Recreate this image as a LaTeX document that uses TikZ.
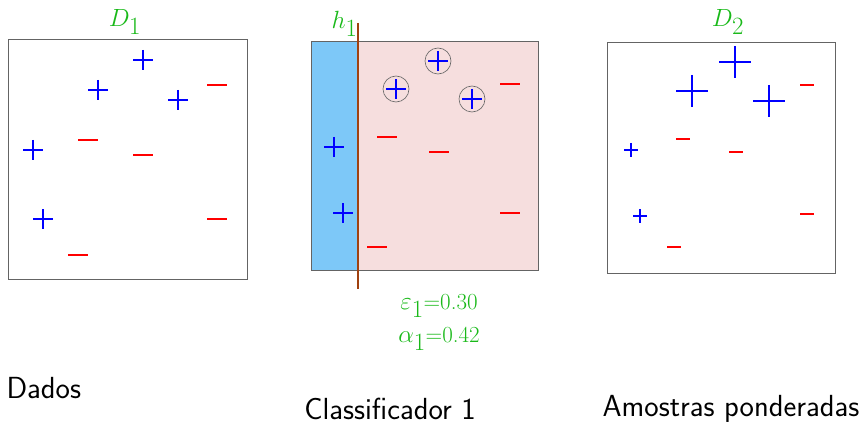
\documentclass[tikz,border=0pt]{standalone}
\usepackage{amsmath}
\usepackage{xcolor}
\usepackage{tikz}
\usetikzlibrary{positioning}

\definecolor{lblgreen}{RGB}{25,185,25}
\definecolor{boxgray}{RGB}{100,100,100}
\definecolor{leftblue}{RGB}{125,200,248}
\definecolor{rightpink}{RGB}{246,222,222}
\definecolor{hbrown}{RGB}{160,65,15}

\begin{document}
\begin{tikzpicture}[x=1pt,y=-1pt,
    box/.style={draw=boxgray,line width=1pt},
    plusmark/.style={draw=blue,line width=1.8pt},
    minusmark/.style={draw=red,line width=2.2pt},
    ring/.style={draw=boxgray,line width=0.6pt},
    lbl/.style={text=lblgreen,font=\fontsize{23}{26}\selectfont},
    caption/.style={font=\sffamily\fontsize{30.5}{34}\selectfont}]
    \useasboundingbox (0,0) rectangle (862,425);

    % data D1
    \draw[box] (8,40) rectangle (247,279);
    \node[lbl] (d1) at (125,22) {$D_{\textstyle 1}$};
    \foreach \x/\y in {143/60, 98/90, 178/100, 33/150, 43/219}
        \draw[plusmark] (\x-10,\y) -- (\x+10,\y) (\x,\y-10) -- (\x,\y+10);
    \foreach \x/\y in {217/85, 88/140, 143/155, 217/219, 78/255}
        \draw[minusmark] (\x-10,\y) -- (\x+10,\y);

    % classifier h1
    \fill[leftblue] (311,42) rectangle (358,270);
    \fill[rightpink] (358,42) rectangle (538,270);
    \draw[box] (311,42) rectangle (538,270);
    \coordinate (htop) at (358,23);
    \coordinate (hbot) at (358,289);
    \draw[hbrown,line width=2.2pt] (htop) -- (hbot);
    \node[lbl,left=-3pt of htop,yshift=-1pt] (h1) {$h_{\textstyle 1}$};
    \foreach \x/\y in {334/147, 343/213, 396/89, 438/61, 472/99}
        \draw[plusmark] (\x-10,\y) -- (\x+10,\y) (\x,\y-10) -- (\x,\y+10);
    \foreach \x/\y in {396/89, 438/61, 472/99}
        \draw[ring] (\x,\y) circle (13pt);
    \foreach \x/\y in {510/84, 387/137, 439/152, 510/213, 377/247}
        \draw[minusmark] (\x-10,\y) -- (\x+10,\y);
    \node[lbl] (eps) at (439,306) {$\varepsilon_{\textstyle 1}$=0.30};
    \node[lbl] (alpha) at (439,339) {$\alpha_{\textstyle 1}$=0.42};

    % weighted samples D2
    \draw[box] (607,43) rectangle (835,273);
    \node[lbl] (d2) at (728,22) {$D_{\textstyle 2}$};
    \foreach \x/\y/\s in {692/91/16, 735/62/16, 769/101/16, 631/150/7, 640/216/7}
        \draw[plusmark] (\x-\s,\y) -- (\x+\s,\y) (\x,\y-\s) -- (\x,\y+\s);
    \foreach \x/\y in {807/85, 683/139, 736/152, 807/214, 674/247}
        \draw[minusmark] (\x-7,\y) -- (\x+7,\y);

    \node[caption,anchor=west] (dados) at (3,388) {Dados};
    \node[caption] (classif) at (390,409) {Classificador 1};
    \node[caption] (amostras) at (731,409) {Amostras ponderadas};
\end{tikzpicture}
\end{document}
